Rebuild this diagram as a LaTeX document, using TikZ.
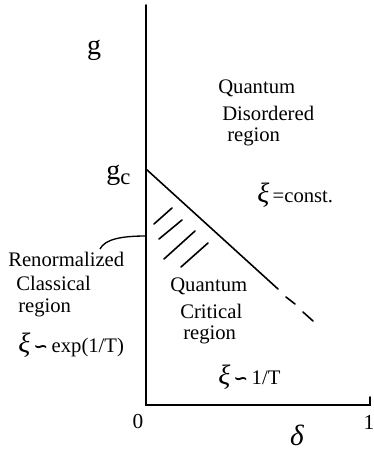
\documentclass[tikz,border=0pt]{standalone}
\usepackage{fontspec}
\setmainfont{Liberation Serif}
\newfontfamily\symfont{DejaVu Sans}
\newcommand{\rsim}{{\symfont\bfseries\fontsize{13}{14}\selectfont ∽}}
\begin{document}
\begin{tikzpicture}[x=0.75pt,y=-0.75pt,
  axis/.style={line width=1.3pt,line cap=round},
  bound/.style={line width=1.2pt,line cap=round},
  hatch/.style={line width=1.2pt,line cap=round},
  lbl/.style={inner sep=0pt,font=\fontsize{15.5}{18}\selectfont},
  big/.style={inner sep=0pt,font=\fontsize{21}{24}\selectfont},
  num/.style={inner sep=0pt,font=\fontsize{16}{18}\selectfont}]
\useasboundingbox (0,0) rectangle (374,450);
% axes
\coordinate (top) at (146,5);
\coordinate (O) at (146,405);
\coordinate (X) at (370,405);
\coordinate (Xt) at (370,397);
\draw[axis] (top) -- (O) -- (X) -- (Xt);
% phase boundary
\coordinate (gc) at (146,169);
\coordinate (se) at (278,289);
\coordinate (d1a) at (286,297);
\coordinate (d1b) at (295,304);
\coordinate (d2a) at (303,312);
\coordinate (d2b) at (313,321);
\draw[bound] (gc) -- (se);
\draw[bound] (d1a) -- (d1b);
\draw[bound] (d2a) -- (d2b);
% hatching
\draw[hatch] (154,224) -- (172,208);
\draw[hatch] (159,239) -- (182,220);
\draw[hatch] (164,259) -- (195,231);
\draw[hatch] (181,267) -- (208,243);
% pointer curve
\coordinate (ca) at (146,236);
\coordinate (cb) at (100,249);
\draw[line width=1pt] (ca) .. controls (122,236) and (105,239) .. (cb);
% labels
\node[big] (g) at (94,50) {g};
\node[big,anchor=west] (gcl) at (106,175) {g\raisebox{-0.4ex}{\fontsize{17}{18}\selectfont c}};
\node[lbl,anchor=west] (qd1) at (218,88) {Quantum};
\node[lbl,anchor=west] (qd2) at (222,113) {Disordered};
\node[lbl,anchor=west] (qd3) at (227,137) {region};
\node[lbl,anchor=west] (xc) at (257,195) {{\fontsize{21}{24}\selectfont\itshape ξ}\,=const.};
\node[lbl,anchor=west] (rc1) at (8,259) {Renormalized};
\node[lbl,anchor=west] (rc2) at (16,283) {Classical};
\node[lbl,anchor=west] (rc3) at (18,308) {region};
\node[lbl,anchor=west] (xe) at (18,345) {{\fontsize{21}{24}\selectfont\itshape ξ}\,\rsim\,exp(1/T)};
\node[lbl,anchor=west] (qc1) at (170,286) {Quantum};
\node[lbl,anchor=west] (qc2) at (180,311) {Critical};
\node[lbl,anchor=west] (qc3) at (183,335) {region};
\node[lbl,anchor=west] (xt) at (218,377) {{\fontsize{21}{24}\selectfont\itshape ξ}\,\rsim\,1/T};
\node[num] (zero) at (138,422) {0};
\node[num] (one) at (369,422) {1};
\node[inner sep=0pt,font=\fontsize{22}{24}\selectfont\itshape] (delta) at (297,435) {δ};
\end{tikzpicture}
\end{document}
